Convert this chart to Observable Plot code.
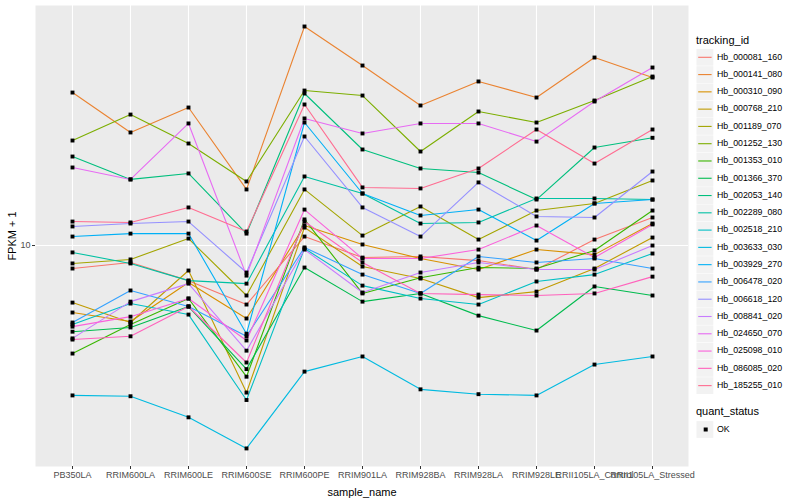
<!DOCTYPE html>
<html>
<head>
<meta charset="utf-8">
<script src="https://cdn.jsdelivr.net/npm/d3@7"></script>
<script src="https://cdn.jsdelivr.net/npm/@observablehq/plot@0.6"></script>
<style>
  html, body { margin: 0; padding: 0; background: #ffffff; }
  #wrap { position: relative; width: 800px; height: 500px; font-family: "Liberation Sans", Arial, sans-serif; }
  #chart { position: absolute; left: 0; top: 0; }
  #legend { position: absolute; left: 690px; top: 0; }
</style>
</head>
<body>
<div id="wrap"><div id="chart"></div><svg id="legend" width="110" height="500"></svg></div>
<script>
// ---- data ----
const samples = ["PB350LA","RRIM600LA","RRIM600LE","RRIM600SE","RRIM600PE","RRIM901LA","RRIM928BA","RRIM928LA","RRIM928LE","RRII105LA_Control","RRII105LA_Stressed"];
const trackingIds = ["Hb_000081_160","Hb_000141_080","Hb_000310_090","Hb_000768_210","Hb_001189_070","Hb_001252_130","Hb_001353_010","Hb_001366_370","Hb_002053_140","Hb_002289_080","Hb_002518_210","Hb_003633_030","Hb_003929_270","Hb_006478_020","Hb_006618_120","Hb_008841_020","Hb_024650_070","Hb_025098_010","Hb_086085_020","Hb_185255_010"];
const seriesColors = ["#F8766D","#EA8331","#D89000","#C09B00","#A3A500","#7CAE00","#39B600","#00BB4E","#00BF7D","#00C1A3","#00BFC4","#00BAE0","#00B0F6","#35A2FF","#9590FF","#C77CFF","#E76BF3","#FA62DB","#FF62BC","#FF6C91"];
const yTicks = [10];
const quantStatus = ["OK"];

const Hb_000081_160 = [8.76, 9.07, 8.17, 7.12, 10.53, 9.33, 9.39, 9.17, 8.71, 10.35, 11.75];
const Hb_000141_080 = [24.12, 19.17, 22.13, 13.81, 35.28, 28.18, 22.39, 25.71, 23.44, 29.51, 26.30];
const Hb_000310_090 = [6.80, 6.46, 8.08, 6.57, 11.22, 10.06, 9.28, 8.71, 9.77, 9.49, 11.35];
const Hb_000768_210 = [7.20, 6.42, 8.66, 4.29, 11.09, 8.86, 8.27, 7.41, 7.67, 8.76, 10.47];
const Hb_001189_070 = [9.02, 9.23, 10.41, 7.50, 13.81, 10.59, 12.52, 10.35, 12.23, 12.74, 14.54];
const Hb_001252_130 = [18.30, 21.25, 17.99, 14.46, 24.40, 23.71, 17.18, 21.63, 20.30, 23.04, 26.45];
const Hb_001353_010 = [5.37, 6.35, 7.37, 4.70, 11.62, 7.59, 8.31, 8.81, 8.76, 9.72, 12.23];
const Hb_001366_370 = [6.09, 6.24, 7.04, 4.91, 8.81, 7.24, 7.59, 6.68, 6.13, 7.90, 7.50];
const Hb_002053_140 = [16.69, 14.63, 15.14, 10.71, 23.99, 17.38, 15.58, 15.22, 13.03, 17.58, 18.59];
const Hb_002289_080 = [9.61, 9.02, 8.17, 8.03, 14.88, 13.49, 11.35, 11.42, 13.11, 13.11, 13.03];
const Hb_002518_210 = [6.35, 7.16, 6.72, 4.11, 9.83, 7.94, 7.37, 7.12, 8.13, 8.46, 9.55];
const Hb_003633_030 = [4.22, 4.20, 3.72, 3.11, 4.84, 5.28, 4.37, 4.25, 4.22, 5.04, 5.28];
const Hb_003929_270 = [10.53, 10.71, 10.71, 6.02, 20.30, 13.49, 11.89, 12.30, 10.29, 12.74, 13.03];
const Hb_006478_020 = [6.42, 7.72, 7.04, 5.93, 9.89, 8.46, 7.59, 9.39, 9.07, 9.28, 8.76];
const Hb_006618_120 = [11.16, 11.35, 11.48, 8.56, 18.73, 12.45, 10.53, 14.38, 11.82, 11.75, 15.31];
const Hb_008841_020 = [5.86, 7.24, 8.03, 5.46, 9.77, 7.63, 8.56, 9.07, 8.71, 8.71, 10.00];
const Hb_024650_070 = [15.67, 14.63, 20.19, 8.41, 20.78, 19.06, 20.19, 20.19, 18.19, 22.91, 27.86];
const Hb_025098_010 = [6.27, 6.64, 7.37, 5.79, 12.30, 9.28, 9.28, 9.77, 11.22, 9.33, 11.29];
const Hb_086085_020 = [5.82, 5.93, 7.04, 5.10, 11.48, 9.07, 7.59, 7.54, 7.50, 7.59, 8.36];
const Hb_185255_010 = [11.48, 11.42, 12.45, 10.84, 22.52, 13.97, 13.89, 15.58, 19.50, 16.03, 19.50];

const seriesValues = [Hb_000081_160, Hb_000141_080, Hb_000310_090, Hb_000768_210, Hb_001189_070, Hb_001252_130, Hb_001353_010, Hb_001366_370, Hb_002053_140, Hb_002289_080, Hb_002518_210, Hb_003633_030, Hb_003929_270, Hb_006478_020, Hb_006618_120, Hb_008841_020, Hb_024650_070, Hb_025098_010, Hb_086085_020, Hb_185255_010];

const rows = [];
trackingIds.forEach((id, i) => {
  samples.forEach((s, j) => rows.push({tracking_id: id, sample_name: s, value: seriesValues[i][j], quant_status: "OK"}));
});

// ---- chart ----
const W = 690, H = 500;
const mL = 35, mR = 2, mT = 5, mB = 34;
const FONT = '"Liberation Sans", Arial, sans-serif';

const chart = Plot.plot({
  width: W, height: H,
  marginLeft: mL, marginRight: mR, marginTop: mT, marginBottom: mB,
  style: {fontFamily: FONT, background: "white", overflow: "visible"},
  x: {type: "point", domain: samples, padding: 0.6, label: null},
  y: {type: "log", domain: [2.803, 39.81], label: null},
  color: {domain: trackingIds, range: seriesColors},
  marks: [
    Plot.frame({fill: "#EBEBEB", stroke: null}),
    Plot.gridX(samples, {stroke: "white", strokeOpacity: 1, strokeWidth: 1.1}),
    Plot.ruleY(yTicks, {stroke: "white", strokeWidth: 1.1}),
    Plot.line(rows, {x: "sample_name", y: "value", z: "tracking_id", stroke: "tracking_id", strokeWidth: 1.1}),
    Plot.dot(rows, {x: "sample_name", y: "value", symbol: "square", fill: "black", r: 2.2}),
    Plot.axisX(samples, {tickSize: 3, tickPadding: 2, fontSize: 9, fill: "#4D4D4D", stroke: "#333333", label: null}),
    Plot.axisY(yTicks, {tickSize: 3, tickPadding: 2, fontSize: 9, fill: "#4D4D4D", stroke: "#333333", label: null, tickFormat: d => String(d)}),
    Plot.text(["FPKM + 1"], {frameAnchor: "left", dx: -23, rotate: -90, fontSize: 11, fill: "black", textAnchor: "middle", lineAnchor: "middle"}),
    Plot.text(["sample_name"], {frameAnchor: "bottom", dy: 26, fontSize: 11, fill: "black", textAnchor: "middle", lineAnchor: "middle"})
  ]
});
document.getElementById("chart").appendChild(chart);

// ---- legend ----
const lg = d3.select("#legend").style("font-family", FONT);
lg.append("text").attr("x", 6).attr("y", 41).attr("dominant-baseline", "middle")
  .attr("font-size", 11).attr("fill", "black").text("tracking_id");
const step = 17.28, y0 = 57.3;
trackingIds.forEach((id, i) => {
  const cy = y0 + i * step;
  lg.append("rect").attr("x", 6.5).attr("y", cy - 8.4).attr("width", 16.8).attr("height", 16.8).attr("fill", "#F2F2F2");
  lg.append("line").attr("x1", 8.2).attr("x2", 21.6).attr("y1", cy).attr("y2", cy)
    .attr("stroke", seriesColors[i]).attr("stroke-width", 1.1);
  lg.append("text").attr("x", 27).attr("y", cy).attr("dominant-baseline", "middle")
    .attr("font-size", 8.8).attr("fill", "black").text(id);
});
lg.append("text").attr("x", 6).attr("y", 412).attr("dominant-baseline", "middle")
  .attr("font-size", 11).attr("fill", "black").text("quant_status");
quantStatus.forEach((q, i) => {
  const cy = 429.5 + i * step;
  lg.append("rect").attr("x", 6.5).attr("y", cy - 8.4).attr("width", 16.8).attr("height", 16.8).attr("fill", "#F2F2F2");
  lg.append("rect").attr("x", 13.7).attr("y", cy - 2).attr("width", 4).attr("height", 4).attr("fill", "black");
  lg.append("text").attr("x", 27).attr("y", cy).attr("dominant-baseline", "middle")
    .attr("font-size", 8.8).attr("fill", "black").text(q);
});
</script>
</body>
</html>
